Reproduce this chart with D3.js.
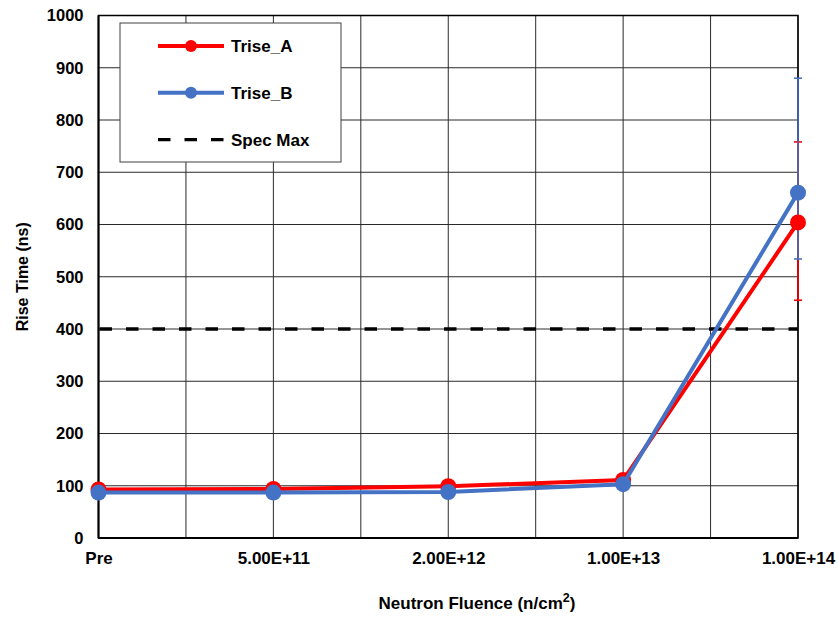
<!DOCTYPE html>
<html>
<head>
<meta charset="utf-8">
<script src="https://cdn.jsdelivr.net/npm/d3@7"></script>
<style>
  body { margin: 0; background: #fff; }
  svg { font-family: "Liberation Sans", Arial, sans-serif; font-weight: bold; }
</style>
</head>
<body>
<svg id="chart" width="840" height="617"></svg>
<script>
// categories along the fluence axis
var categories = ["Pre", "5.00E+11", "2.00E+12", "1.00E+13", "1.00E+14"];

// rise time values (ns)
var triseA = [93, 94, 99, 111, 604];
var triseB = [87, 87, 88, 103, 661];

// error bars, only on the last point
var errA_plus  = [0, 0, 0, 0, 154];
var errA_minus = [0, 0, 0, 0, 149];
var errB_plus  = [0, 0, 0, 0, 219];
var errB_minus = [0, 0, 0, 0, 127];

var specMax = 400;
var yTicks = [0, 100, 200, 300, 400, 500, 600, 700, 800, 900, 1000];

var svg = d3.select("#chart");
var pLeft = 98.5, pRight = 798, pTop = 15.5, pBottom = 538;

var x = d3.scaleLinear().domain([0, categories.length - 1]).range([pLeft, pRight]);
var y = d3.scaleLinear().domain([0, 1000]).range([pBottom, pTop]);

/* grid */
var grid = svg.append("g").attr("stroke", "#2a2a2a").attr("stroke-width", 1);
grid.selectAll("line.h").data(yTicks).enter().append("line")
  .attr("x1", pLeft).attr("x2", pRight)
  .attr("y1", function (d) { return y(d); })
  .attr("y2", function (d) { return y(d); });
grid.selectAll("line.v").data(d3.range(0, categories.length - 0.5, 0.5)).enter().append("line")
  .attr("x1", function (d) { return x(d); })
  .attr("x2", function (d) { return x(d); })
  .attr("y1", pTop).attr("y2", pBottom);

/* plot border */
svg.append("rect")
  .attr("x", pLeft).attr("y", pTop)
  .attr("width", pRight - pLeft).attr("height", pBottom - pTop)
  .attr("fill", "none").attr("stroke", "#000").attr("stroke-width", 1.5);
svg.append("line").attr("x1", pLeft).attr("x2", pLeft).attr("y1", pTop).attr("y2", pBottom)
  .attr("stroke", "#000").attr("stroke-width", 2);
svg.append("line").attr("x1", pLeft).attr("x2", pRight).attr("y1", pBottom).attr("y2", pBottom)
  .attr("stroke", "#000").attr("stroke-width", 2);

/* axes labels */
var yAxis = d3.axisLeft(y).tickValues(yTicks).tickFormat(d3.format("d"))
  .tickSize(0).tickPadding(15);
var gy = svg.append("g").attr("transform", "translate(" + pLeft + ",0)").call(yAxis);
gy.select(".domain").remove();
gy.selectAll("text").attr("font-size", 16.5).attr("font-weight", "bold")
  .attr("font-family", "Liberation Sans, Arial, sans-serif").attr("fill", "#000");

var xAxis = d3.axisBottom(x).tickValues(d3.range(categories.length))
  .tickFormat(function (i) { return categories[i]; }).tickSize(0).tickPadding(14);
var gx = svg.append("g").attr("transform", "translate(0," + pBottom + ")").call(xAxis);
gx.select(".domain").remove();
gx.selectAll("text").attr("font-size", 17).attr("font-weight", "bold")
  .attr("font-family", "Liberation Sans, Arial, sans-serif").attr("fill", "#000");

/* axis titles */
var xt = svg.append("text").attr("x", 477).attr("y", 609)
  .attr("text-anchor", "middle").attr("font-size", 17);
xt.append("tspan").text("Neutron Fluence (n/cm");
xt.append("tspan").attr("font-size", 12.5).attr("dy", -7).text("2");
xt.append("tspan").attr("dy", 7).text(")");

svg.append("text")
  .attr("transform", "translate(28," + ((pTop + pBottom) / 2) + ") rotate(-90)")
  .attr("text-anchor", "middle").attr("font-size", 16)
  .text("Rise Time (ns)");

/* spec max */
svg.append("line")
  .attr("x1", pLeft + 1).attr("x2", pRight)
  .attr("y1", y(specMax)).attr("y2", y(specMax))
  .attr("stroke", "#000").attr("stroke-width", 3.3)
  .attr("stroke-dasharray", "12.5,14");

/* series */
var series = [
  { name: "Trise_A", values: triseA, plus: errA_plus, minus: errA_minus, color: "#ff0000" },
  { name: "Trise_B", values: triseB, plus: errB_plus, minus: errB_minus, color: "#4472c4" }
];

var line = d3.line()
  .x(function (d, i) { return x(i); })
  .y(function (d) { return y(d); });

series.forEach(function (s) {
  var eg = svg.append("g").attr("stroke", s.color).attr("stroke-width", 1.6);
  s.values.forEach(function (v, i) {
    if (!s.plus[i] && !s.minus[i]) return;
    var hi = y(v + s.plus[i]), lo = y(v - s.minus[i]);
    eg.append("line").attr("x1", x(i)).attr("x2", x(i)).attr("y1", hi).attr("y2", lo);
    eg.append("line").attr("x1", x(i) - 4).attr("x2", x(i) + 4).attr("y1", hi).attr("y2", hi);
    eg.append("line").attr("x1", x(i) - 4).attr("x2", x(i) + 4).attr("y1", lo).attr("y2", lo);
  });
});

series.forEach(function (s) {
  svg.append("path").datum(s.values)
    .attr("d", line)
    .attr("fill", "none").attr("stroke", s.color).attr("stroke-width", 4)
    .attr("stroke-linejoin", "round");
  svg.selectAll(null).data(s.values).enter().append("circle")
    .attr("cx", function (d, i) { return x(i); })
    .attr("cy", function (d) { return y(d); })
    .attr("r", 8)
    .attr("fill", s.color);
});

/* legend */
var lg = svg.append("g");
lg.append("rect").attr("x", 120).attr("y", 23).attr("width", 221).attr("height", 139)
  .attr("fill", "#fff").attr("stroke", "#404040").attr("stroke-width", 1);
var legendItems = [
  { name: "Trise_A", color: "#ff0000", dash: null, marker: true },
  { name: "Trise_B", color: "#4472c4", dash: null, marker: true },
  { name: "Spec Max", color: "#000", dash: "12.5,14", marker: false }
];
legendItems.forEach(function (d, i) {
  var yy = 46 + i * 46.8;
  lg.append("line").attr("x1", 158).attr("x2", 224).attr("y1", yy).attr("y2", yy)
    .attr("stroke", d.color).attr("stroke-width", d.marker ? 4 : 3.3)
    .attr("stroke-dasharray", d.dash);
  if (d.marker) {
    lg.append("circle").attr("cx", 191).attr("cy", yy).attr("r", 6).attr("fill", d.color);
  }
  lg.append("text").attr("x", 231).attr("y", yy).attr("dy", "0.35em")
    .attr("font-size", 17).text(d.name);
});
</script>
</body>
</html>
